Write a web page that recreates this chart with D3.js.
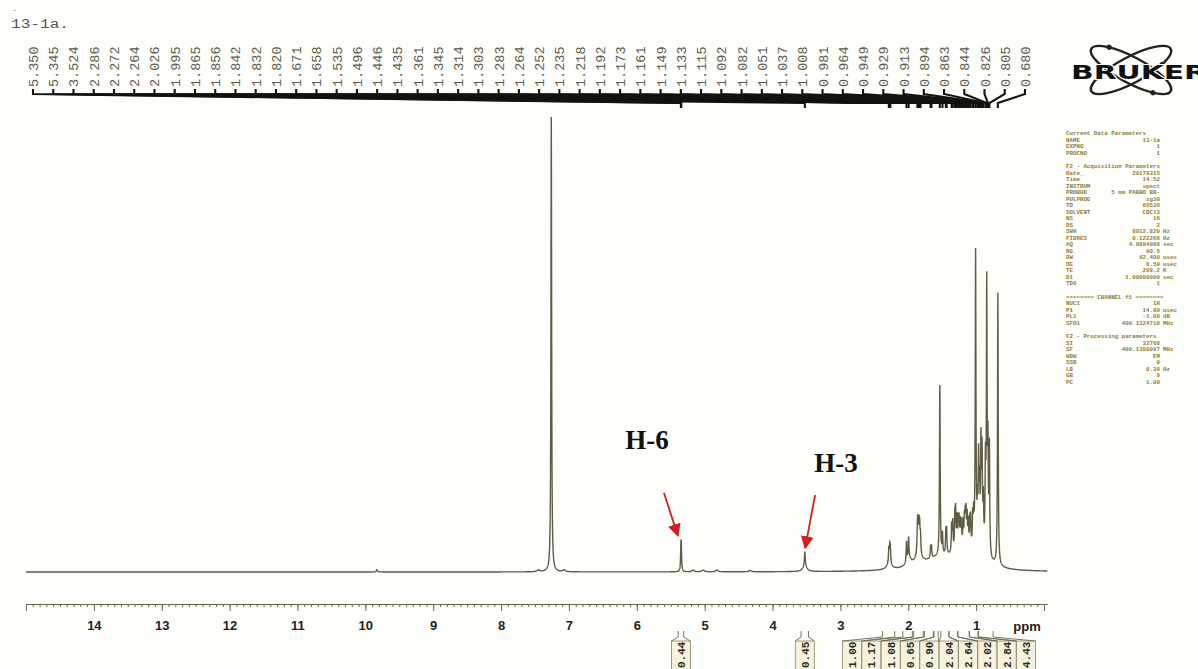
<!DOCTYPE html>
<html>
<head>
<meta charset="utf-8">
<script src="https://cdn.jsdelivr.net/npm/d3@7"></script>
<style>
  body { margin: 0; background: #fefefb; }
  svg { display: block; }
</style>
</head>
<body>
<svg id="chart" width="1198" height="669"></svg>
<script>
// picked peaks (printed along the top), ppm and intensity
var pickedPpm = [5.350, 5.345, 3.524, 2.286, 2.272, 2.264, 2.026, 1.995, 1.865, 1.856,
                 1.842, 1.832, 1.820, 1.671, 1.658, 1.535, 1.496, 1.446, 1.435, 1.361,
                 1.345, 1.314, 1.303, 1.283, 1.264, 1.252, 1.235, 1.218, 1.192, 1.173,
                 1.161, 1.149, 1.133, 1.115, 1.092, 1.082, 1.051, 1.037, 1.008, 0.981,
                 0.964, 0.949, 0.929, 0.913, 0.894, 0.863, 0.844, 0.826, 0.805, 0.680];
var pickedHeight = [4.2, 4.2, 2.8, 3.2, 3.2, 2.8, 4.5, 4.5, 5.5, 5.5,
                    5.5, 5, 4, 2.5, 2.5, 38.3, 4.5, 5, 5, 6,
                    6.5, 7, 8, 6.5, 5.5, 5.5, 5, 5, 5, 5.5,
                    6, 7, 6.5, 5.5, 5.5, 5.5, 6.5, 6.5, 64.5, 8,
                    18, 12, 22, 20, 10, 18, 58, 22, 24, 60];
var pickedWidth = 0.006;

// unlabelled signals: solvent, small impurities, broad humps under the multiplets
var otherPpm    = [9.830, 7.450, 7.260, 7.070, 5.170, 5.020, 4.820, 4.330, 3.524, 2.280, 1.990, 1.850, 1.550, 1.200, 0.950];
var otherHeight = [0.5, 0.4, 100, 0.4, 0.4, 0.4, 0.4, 0.3, 1.6, 1.4, 1.8, 2.6, 2.6, 3.6, 3.6];
var otherWidth  = [0.01, 0.02, 0.006, 0.02, 0.02, 0.02, 0.02, 0.02, 0.03, 0.04, 0.04, 0.05, 0.3, 0.15, 0.12];

// integrals under the axis
var intFrom  = [5.39, 3.58, 2.38, 2.08, 1.92, 1.76, 1.62, 1.52, 1.40, 1.27, 1.10, 0.97];
var intTo    = [5.31, 3.47, 2.20, 1.94, 1.78, 1.63, 1.56, 1.40, 1.27, 1.10, 0.97, 0.75];
var intValue = [0.44, 0.45, 1.00, 1.17, 1.08, 0.65, 0.90, 2.04, 2.64, 2.02, 2.84, 4.43];

var axisTicks = d3.range(0, 16);
var annotations = [{ label: "H-6", ppm: 5.35, h: 7.3 }, { label: "H-3", ppm: 3.52, h: 4.6 }];

var params = [
  ["Current Data Parameters", "", ""],
  ["NAME", "13-1a", ""],
  ["EXPNO", "1", ""],
  ["PROCNO", "1", ""],
  null,
  ["F2 - Acquisition Parameters", "", ""],
  ["Date_", "20170315", ""],
  ["Time", "14.52", ""],
  ["INSTRUM", "spect", ""],
  ["PROBHD", "5 mm PABBO BB-", ""],
  ["PULPROG", "zg30", ""],
  ["TD", "65536", ""],
  ["SOLVENT", "CDCl3", ""],
  ["NS", "16", ""],
  ["DS", "2", ""],
  ["SWH", "8012.820", "Hz"],
  ["FIDRES", "0.122266", "Hz"],
  ["AQ", "4.0894966", "sec"],
  ["RG", "90.5", ""],
  ["DW", "62.400", "usec"],
  ["DE", "6.50", "usec"],
  ["TE", "298.2", "K"],
  ["D1", "1.00000000", "sec"],
  ["TD0", "1", ""],
  null,
  ["======== CHANNEL f1 ========", "", ""],
  ["NUC1", "1H", ""],
  ["P1", "14.00", "usec"],
  ["PL1", "-1.00", "dB"],
  ["SFO1", "400.1324710", "MHz"],
  null,
  ["F2 - Processing parameters", "", ""],
  ["SI", "32768", ""],
  ["SF", "400.1300097", "MHz"],
  ["WDW", "EM", ""],
  ["SSB", "0", ""],
  ["LB", "0.30", "Hz"],
  ["GB", "0", ""],
  ["PC", "1.00", ""]
];

var svg = d3.select("#chart");

var x = d3.scaleLinear().domain([15.0, -0.05]).range([26, 1047.4]);
var y = d3.scaleLinear().domain([0, 100]).range([572, 117]);

// all lines of the spectrum
var peaks = pickedPpm.map(function (p, i) { return { p: p, h: pickedHeight[i], w: pickedWidth }; })
  .concat(otherPpm.map(function (p, i) { return { p: p, h: otherHeight[i], w: otherWidth[i] }; }));

var spectrum = d3.range(15.0, -0.05, -0.002).map(function (ppm) {
  var s = 0;
  peaks.forEach(function (k) {
    var d = ppm - k.p;
    s += k.h * k.w * k.w / (k.w * k.w + d * d);
  });
  return [ppm, s];
});

svg.append("path")
  .datum(spectrum)
  .attr("fill", "none")
  .attr("stroke", "#625c46")
  .attr("stroke-width", 1.4)
  .attr("d", d3.line().x(function (d) { return x(d[0]); }).y(function (d) { return y(d[1]); }));

// ppm axis
var minor = svg.append("g").attr("transform", "translate(0,604)")
  .call(d3.axisBottom(x).tickValues(d3.range(0, 150.5).map(function (v) { return v / 10; }))
    .tickSize(3).tickSizeOuter(0).tickFormat(""));
minor.selectAll("line,path").attr("stroke", "#6b6650");

var major = svg.append("g").attr("transform", "translate(0,604)")
  .call(d3.axisBottom(x).tickValues(axisTicks).tickSize(7).tickSizeOuter(0).tickPadding(10)
    .tickFormat(function (d) { return d > 0 && d < 15 ? d : ""; }));
major.select(".domain").remove();
major.selectAll("line").attr("stroke", "#6b6650");
major.selectAll("text")
  .attr("font-family", "Liberation Sans, Arial, sans-serif")
  .attr("font-weight", "bold")
  .attr("font-size", 13)
  .attr("fill", "#222");

svg.append("text").attr("x", 1027).attr("y", 631).attr("text-anchor", "middle")
  .attr("font-family", "Liberation Sans, Arial, sans-serif").attr("font-weight", "bold")
  .attr("font-size", 13).attr("fill", "#222").text("ppm");

// peak pick labels across the top
var labelX = d3.scalePoint().domain(d3.range(pickedPpm.length)).range([33, 1025]);
var pick = svg.append("g");
pickedPpm.forEach(function (p, i) {
  var lx = labelX(i), px = x(p);
  pick.append("path")
    .attr("d", "M" + lx + ",89L" + lx + ",94L" + px + ",103L" + px + ",108")
    .attr("fill", "none").attr("stroke", "#15130e").attr("stroke-width", 2.1);
  pick.append("text")
    .attr("transform", "translate(" + (lx + 5) + ",87) rotate(-90)")
    .attr("font-family", "Liberation Mono, DejaVu Sans Mono, monospace")
    .attr("font-size", 13.5)
    .attr("fill", "#5c5a4c")
    .text(d3.format(".3f")(p));
});

// integrals
var intX = d3.scalePoint().domain(d3.range(10)).range([852, 1026]);
var integ = svg.append("g");
intValue.forEach(function (v, i) {
  var x1 = x(intFrom[i]), x2 = x(intTo[i]);
  var cx = i < 2 ? (x1 + x2) / 2 : intX(i - 2);
  integ.append("rect").attr("x", cx - 9.5).attr("y", 641).attr("width", 19).attr("height", 30)
    .attr("fill", "#f6f2de").attr("stroke", "#8a8468").attr("stroke-width", 0.8);
  integ.append("path")
    .attr("d", "M" + x1 + ",631L" + x1 + ",637L" + (cx - 9.5) + ",641M" + x2 + ",631L" + x2 + ",637L" + (cx + 9.5) + ",641")
    .attr("fill", "none").attr("stroke", "#6b6650").attr("stroke-width", 0.9);
  integ.append("text")
    .attr("transform", "translate(" + (cx + 4) + ",668) rotate(-90)")
    .attr("font-family", "Liberation Mono, DejaVu Sans Mono, monospace")
    .attr("font-weight", "bold")
    .attr("font-size", 11)
    .attr("fill", "#2e2a1e")
    .text(d3.format(".2f")(v));
});

// title
svg.append("text").attr("x", 11).attr("y", 28)
  .attr("font-family", "Liberation Mono, monospace").attr("font-size", 12)
  .attr("textLength", 58).attr("lengthAdjust", "spacingAndGlyphs").attr("fill", "#555")
  .text("13-1a.");
svg.append("text").attr("x", 12).attr("y", 12)
  .attr("font-family", "Liberation Mono, monospace").attr("font-size", 8).attr("fill", "#777")
  .text("-");

// red arrows and labels
var defs = svg.append("defs");
defs.append("marker").attr("id", "head").attr("viewBox", "0 0 10 10")
  .attr("refX", 9).attr("refY", 5).attr("markerWidth", 13).attr("markerHeight", 13)
  .attr("markerUnits", "userSpaceOnUse").attr("orient", "auto")
  .append("path").attr("d", "M0,0L10,5L0,10Z").attr("fill", "#d01e1e");

var arrowOffset = [[-14, -43], [10, -53]];
var textOffset = [[-31, -87], [31, -76]];
annotations.forEach(function (a, i) {
  var tx = x(a.ppm) - (i === 0 ? 3 : 0), ty = y(a.h) - 3;
  svg.append("line")
    .attr("x1", tx + arrowOffset[i][0]).attr("y1", ty + arrowOffset[i][1])
    .attr("x2", tx).attr("y2", ty)
    .attr("stroke", "#d01e1e").attr("stroke-width", 1.8)
    .attr("marker-end", "url(#head)");
  svg.append("text")
    .attr("x", tx + textOffset[i][0]).attr("y", ty + textOffset[i][1])
    .attr("text-anchor", "middle")
    .attr("font-family", "Liberation Serif, Times New Roman, serif")
    .attr("font-weight", "bold")
    .attr("font-size", 27)
    .attr("fill", "#111")
    .text(a.label);
});

// Bruker logo
var logo = svg.append("g").attr("transform", "translate(1131,70)");
[28, -28].forEach(function (r) {
  var g = logo.append("g").attr("transform", "rotate(" + r + ")");
  g.append("ellipse").attr("rx", 45).attr("ry", 13)
    .attr("fill", "none").attr("stroke", "#222").attr("stroke-width", 2.4);
  g.append("circle").attr("cx", -30).attr("cy", -9.8).attr("r", 2.6).attr("fill", "#222");
  g.append("circle").attr("cx", 30).attr("cy", 9.8).attr("r", 2.6).attr("fill", "#222");
});
svg.append("text").attr("x", 1071).attr("y", 79)
  .attr("font-family", "DejaVu Sans, sans-serif").attr("font-weight", "bold")
  .attr("font-size", 19).attr("textLength", 136).attr("lengthAdjust", "spacingAndGlyphs")
  .attr("fill", "#111").attr("stroke", "#fefefb").attr("stroke-width", 2).attr("paint-order", "stroke")
  .text("BRUKER");

// parameter listing
var par = svg.append("g")
  .attr("font-family", "Liberation Mono, DejaVu Sans Mono, monospace")
  .attr("font-size", 5.8).attr("font-weight", "bold").attr("fill", "#8e7a36");
var py = 135;
params.forEach(function (row) {
  if (!row) { py += 7; return; }
  par.append("text").attr("x", 1066).attr("y", py).text(row[0]);
  if (row[1]) par.append("text").attr("x", 1160).attr("y", py).attr("text-anchor", "end").text(row[1]);
  if (row[2]) par.append("text").attr("x", 1163).attr("y", py).text(row[2]);
  py += 6.5;
});
</script>
</body>
</html>
